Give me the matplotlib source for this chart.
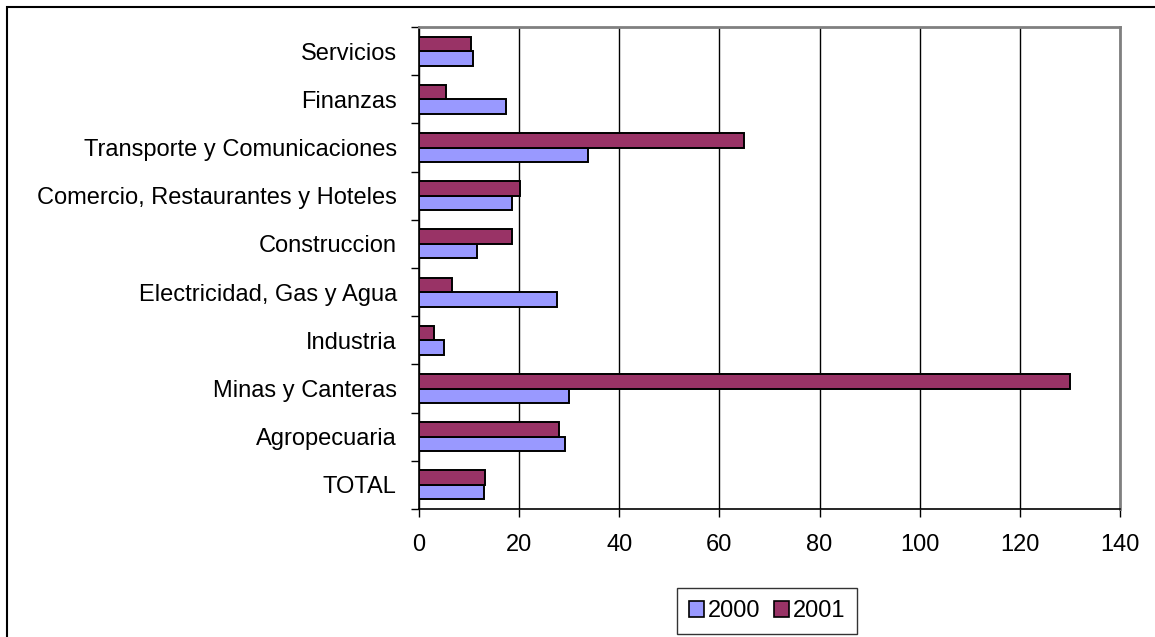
import matplotlib
matplotlib.use("Agg")
import matplotlib.pyplot as plt
from matplotlib.patches import Rectangle, Patch
import numpy as np

plt.rcParams['font.family'] = ['Liberation Sans', 'DejaVu Sans']

categories = ["TOTAL", "Agropecuaria", "Minas y Canteras", "Industria",
              "Electricidad, Gas y Agua", "Construccion",
              "Comercio, Restaurantes y Hoteles", "Transporte y Comunicaciones",
              "Finanzas", "Servicios"]
values_2000 = [13.0, 29.1, 29.9, 4.9, 27.5, 11.6, 18.6, 33.8, 17.4, 10.8]
values_2001 = [13.2, 27.9, 130.1, 3.0, 6.5, 18.6, 20.2, 65.0, 5.3, 10.4]
series_labels = ["2000", "2001"]
xticks = [0, 20, 40, 60, 80, 100, 120, 140]

c2000 = "#9999FF"
c2001 = "#993366"
FS = 17

W, H = 1155, 637
fig = plt.figure(figsize=(W / 100, H / 100), dpi=100)
ax = fig.add_axes([419 / W, 1 - 509 / H, (1120 - 419) / W, (509 - 27) / H])

y = np.arange(len(categories))
bh = 0.30
ax.barh(y - bh / 2, values_2000, height=bh, color=c2000, edgecolor="black",
        linewidth=1.4, zorder=3)
ax.barh(y + bh / 2, values_2001, height=bh, color=c2001, edgecolor="black",
        linewidth=1.4, zorder=3)

ax.set_xlim(0, 140)
ax.set_ylim(-0.5, len(categories) - 0.5)
ax.set_xticks(xticks)
ax.set_xticklabels([str(t) for t in xticks], fontsize=FS)
ax.set_yticks(np.arange(len(categories) + 1) - 0.5)
ax.set_yticklabels([])
ax.set_yticks(y, minor=True)
ax.set_yticklabels(categories, minor=True, fontsize=FS)
ax.tick_params(axis="y", which="major", length=6, width=1, direction="out", color="black")
ax.tick_params(axis="y", which="minor", length=0, pad=16)
ax.tick_params(axis="x", which="major", length=6, width=1, direction="out", pad=12, color="black")

ax.grid(axis="x", color="black", linewidth=1, zorder=0)
ax.set_axisbelow(True)
for s in ["top", "right"]:
    ax.spines[s].set_color("#808080")
    ax.spines[s].set_linewidth(2)
for s in ["left", "bottom"]:
    ax.spines[s].set_color("black")
    ax.spines[s].set_linewidth(1.2)

handles = [Patch(facecolor=c2000, edgecolor="black", linewidth=1.2),
           Patch(facecolor=c2001, edgecolor="black", linewidth=1.2)]
leg = fig.legend(handles, series_labels, loc="center", ncol=2,
                 bbox_to_anchor=(767 / W, 1 - 611 / H), fontsize=FS,
                 frameon=True, fancybox=False, shadow=False,
                 handlelength=0.65, handleheight=0.65, handletextpad=0.15,
                 columnspacing=0.6, borderpad=0.5, borderaxespad=0)
leg.get_frame().set_edgecolor("black")
leg.get_frame().set_linewidth(1)

fig.patches.append(Rectangle((7 / W, -0.1), 1.2, 1.1 - 7 / H,
                             transform=fig.transFigure, fill=False,
                             edgecolor="black", linewidth=1.5, zorder=0))

fig.savefig("out.png", dpi=100)
